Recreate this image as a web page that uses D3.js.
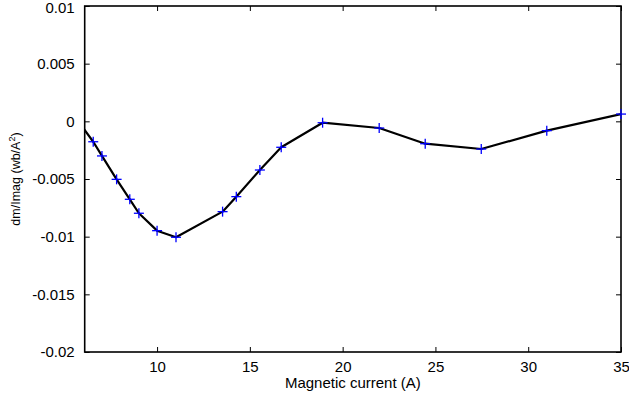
<!DOCTYPE html>
<html>
<head>
<meta charset="utf-8">
<script src="https://cdn.jsdelivr.net/npm/d3@7"></script>
<style>
  html, body { margin: 0; padding: 0; background: #fff; }
  text { font-family: "Liberation Sans", Arial, Helvetica, sans-serif; fill: #000; }
</style>
</head>
<body>
<svg id="chart" width="629" height="394"></svg>
<script>
// Data
const current = [6.0, 6.56, 7.03, 7.82, 8.53, 9.02, 10.0, 11.02, 13.53, 14.27, 15.54, 16.69, 18.92, 21.97, 24.45, 27.47, 31.0, 35.0];
const dmImag  = [-0.00054, -0.00177, -0.0030, -0.00503, -0.00676, -0.00797, -0.00948, -0.01005, -0.00783, -0.00653, -0.00422, -0.00225, -0.00012, -0.00058, -0.00194, -0.0024, -0.00081, 0.00063];
const xTicks = [10, 15, 20, 25, 30, 35];
const yTicks = [0.01, 0.005, 0, -0.005, -0.01, -0.015, -0.02];
const yTickLabels = ["0.01", "0.005", "0", "-0.005", "-0.01", "-0.015", "-0.02"];
const xDomain = [6.1, 35];
const yDomain = [-0.02, 0.01];
const xLabel = "Magnetic current (A)";

const svg = d3.select("#chart");
const L = 84.7, R = 621, T = 6, B = 352;
const x = d3.scaleLinear().domain(xDomain).range([L, R]);
const y = d3.scaleLinear().domain(yDomain).range([B, T]);

const data = current.map((c, i) => ({ c, v: dmImag[i] }));

svg.append("defs").append("clipPath").attr("id", "clip")
  .append("rect").attr("x", L).attr("y", T).attr("width", R - L).attr("height", B - T);

const fmtY = d => yTickLabels[yTicks.indexOf(d)];
const tickLen = 5;

const xAxisB = d3.axisBottom(x).tickValues(xTicks).tickSizeInner(-tickLen).tickSizeOuter(0).tickPadding(9).tickFormat(d3.format("d"));
const xAxisT = d3.axisTop(x).tickValues(xTicks).tickSizeInner(-tickLen).tickSizeOuter(0).tickFormat("");
const yAxisL = d3.axisLeft(y).tickValues(yTicks).tickSizeInner(-tickLen).tickSizeOuter(0).tickPadding(10).tickFormat(fmtY);
const yAxisR = d3.axisRight(y).tickValues(yTicks).tickSizeInner(-tickLen).tickSizeOuter(0).tickFormat("");

function style(g) {
  g.select(".domain").remove();
  g.selectAll(".tick line").attr("stroke", "#000").attr("stroke-width", 1);
  g.selectAll(".tick text").style("font-size", "15px").attr("fill", "#000");
}
svg.append("g").attr("transform", `translate(0,${B})`).call(xAxisB).call(style);
svg.append("g").attr("transform", `translate(0,${T})`).call(xAxisT).call(style);
const gyl = svg.append("g").attr("transform", `translate(${L},0)`).call(yAxisL).call(style);
gyl.selectAll(".tick").filter(d => d === yDomain[1]).select("text").attr("dy", "0.42em");
svg.append("g").attr("transform", `translate(${R},0)`).call(yAxisR).call(style);

// box
svg.append("rect").attr("x", L).attr("y", T).attr("width", R - L).attr("height", B - T)
  .attr("fill", "none").attr("stroke", "#000").attr("stroke-width", 1.6);

// line
const line = d3.line().x(d => x(d.c)).y(d => y(d.v));
svg.append("path").datum(data).attr("clip-path", "url(#clip)")
  .attr("d", line).attr("fill", "none").attr("stroke", "#000").attr("stroke-width", 2.2)
  .attr("stroke-linejoin", "round");

// markers '+'
const ms = 5;
const mk = svg.append("g").selectAll("g").data(data.filter(d => d.c >= xDomain[0])).join("g")
  .attr("transform", d => `translate(${x(d.c)},${y(d.v)})`);
mk.append("line").attr("x1", -ms).attr("x2", ms).attr("y1", 0).attr("y2", 0).attr("stroke", "#0000ff").attr("stroke-width", 1.3);
mk.append("line").attr("x1", 0).attr("x2", 0).attr("y1", -ms).attr("y2", ms).attr("stroke", "#0000ff").attr("stroke-width", 1.3);

// labels
svg.append("text").attr("x", (L + R) / 2).attr("y", 388).attr("text-anchor", "middle")
  .style("font-size", "15px").text(xLabel);

const yl = svg.append("text").attr("transform", `translate(20,${(T + B) / 2}) rotate(-90)`)
  .attr("text-anchor", "middle").style("font-size", "12.5px");
yl.append("tspan").text("dm/Imag (wb/A");
yl.append("tspan").attr("dy", -5).style("font-size", "9px").text("2");
yl.append("tspan").attr("dy", 5).text(")");
</script>
</body>
</html>
